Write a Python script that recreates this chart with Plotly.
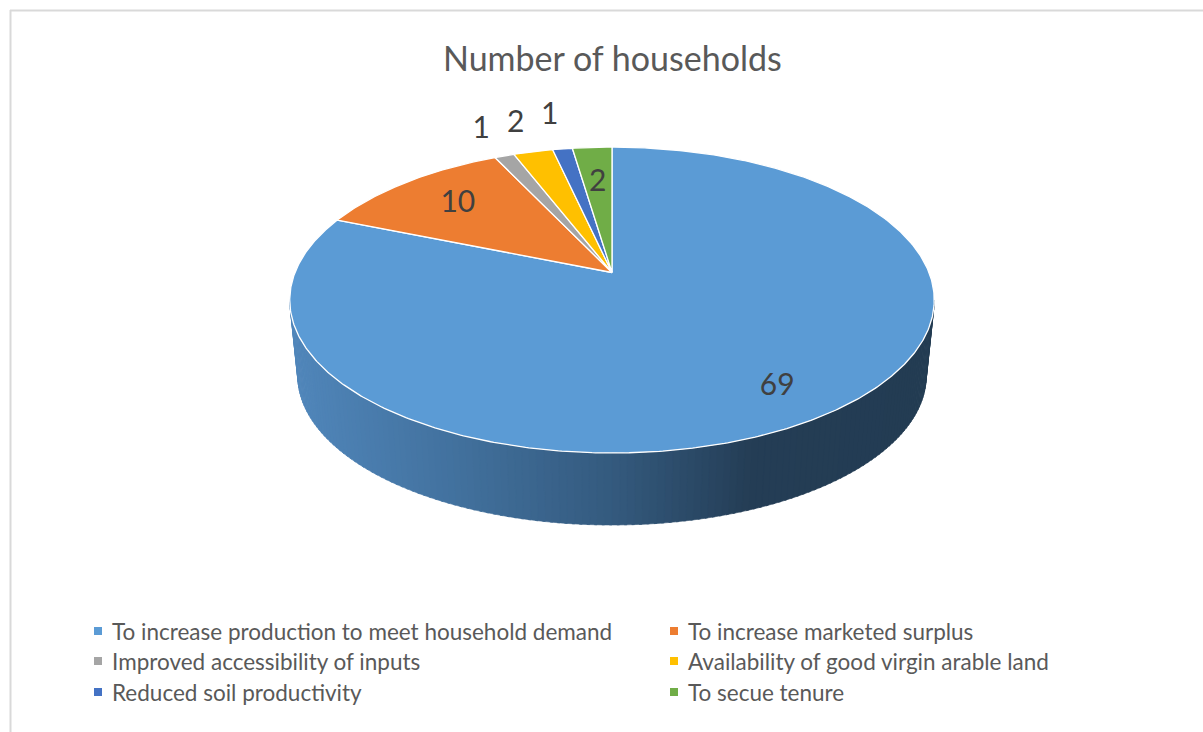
import numpy as np
import plotly.graph_objects as go

# ---------------- data ----------------
categories = [
    "To increase production to meet household demand",
    "To increase marketed surplus",
    "Improved accessibility of inputs",
    "Availability of good virgin arable land",
    "Reduced soil productivity",
    "To secue tenure",
]
values = [69, 10, 1, 2, 1, 2]
title_text = "Number of households"

# ---------------- styles / layout constants ----------------
colors = ["#5B9BD5", "#ED7D31", "#A5A5A5", "#FFC000", "#4472C4", "#70AD47"]
label_r = [0.82, 0.73, 1.26, 1.27, 1.32, 0.68]   # radial position of value labels
W, H = 1203, 732
CX, CY = 612.0, 272.5          # pie centre on screen
RX, RY = 317.0, 148.0          # pie radii
PERSP = 0.18                   # perspective strength
DEPTH = 76.5                   # thickness of the pie
BOTTOM_K = 0.975               # bottom rim is slightly smaller (perspective)
FONT = "Lato"
TXT = "#595959"
LBL = "#404040"

# side gradient stops (normalized screen x -> rgb)
grad_pos = [0.0, 0.25, 0.5, 0.72, 1.0]
grad_rgb = [(80, 134, 186), (66, 113, 158), (52, 90, 126), (36, 61, 85), (35, 60, 83)]


def proj(phi_deg, r=1.0, level=0):
    phi = np.radians(phi_deg)
    s = 1.0 / (1.0 + PERSP * r * np.cos(phi))
    k = 1.0 if level == 0 else BOTTOM_K
    x = CX + RX * r * np.sin(phi) * s * k
    y = CY + level * DEPTH - RY * r * np.cos(phi) * s * k
    return x, y


def grad_color(t):
    t = min(max(t, 0.0), 1.0)
    rgb = [int(round(np.interp(t, grad_pos, [c[i] for c in grad_rgb]))) for i in range(3)]
    return "rgb(%d,%d,%d)" % tuple(rgb)


fig = go.Figure()

total = float(sum(values))
bounds = np.concatenate([[0.0], np.cumsum(values) / total * 360.0])

# ---------------- side (front wall, drawn with a gradient) ----------------
phi_l = np.degrees(np.arccos(-PERSP))
phi_r = 360.0 - phi_l
n_strips = 140
edges = np.linspace(phi_l, phi_r, n_strips + 1)
for i in range(n_strips):
    a0, a1 = edges[i], edges[i + 1] + 0.4
    arc = np.linspace(a0, a1, 4)
    tx, ty = proj(arc)
    bx, by = proj(arc[::-1], level=1)
    xs = np.concatenate([tx, bx, [tx[0]]])
    ys = np.concatenate([ty, by, [ty[0]]])
    xm = np.mean(xs)
    t = (xm - (CX - RX)) / (2 * RX)
    col = grad_color(t)
    fig.add_trace(go.Scatter(x=xs, y=ys, mode="lines", fill="toself",
                             fillcolor=col, line=dict(width=0.6, color=col),
                             hoverinfo="skip", showlegend=False))

# ---------------- top face slices ----------------
for i, (cat, v) in enumerate(zip(categories, values)):
    a0, a1 = bounds[i], bounds[i + 1]
    n = max(3, int((a1 - a0) * 2))
    arc = np.linspace(a0, a1, n)
    ax, ay = proj(arc)
    xs = np.concatenate([[CX], ax, [CX]])
    ys = np.concatenate([[CY], ay, [CY]])
    fig.add_trace(go.Scatter(x=xs, y=ys, mode="lines", fill="toself",
                             fillcolor=colors[i], line=dict(color="white", width=1.3),
                             name=cat, hovertemplate=cat + ": %d<extra></extra>" % v,
                             showlegend=False))

# ---------------- value labels ----------------
lx, ly = [], []
for i, v in enumerate(values):
    mid = (bounds[i] + bounds[i + 1]) / 2.0
    x, y = proj(mid, r=label_r[i])
    lx.append(x)
    ly.append(y)
fig.add_trace(go.Scatter(x=lx, y=ly, mode="text", text=[str(v) for v in values],
                         textposition="middle center",
                         textfont=dict(family=FONT, size=30, color=LBL),
                         hoverinfo="skip", showlegend=False))

# ---------------- legend (two columns, three rows) ----------------
leg_cols = [98, 674]
leg_rows = [631, 661, 692]
for i, cat in enumerate(categories):
    r, c = divmod(i, 2)
    fig.add_trace(go.Scatter(x=[leg_cols[c]], y=[leg_rows[r]], mode="markers",
                             marker=dict(symbol="square", size=8, color=colors[i]),
                             hoverinfo="skip", showlegend=False))
    fig.add_annotation(x=leg_cols[c] + 12, y=leg_rows[r], text=cat, showarrow=False,
                       xanchor="left", yanchor="middle", xref="x", yref="y",
                       font=dict(family=FONT, size=22.5, color=TXT))

# title
fig.add_annotation(x=CX, y=57, text=title_text, showarrow=False, xref="x", yref="y",
                   xanchor="center", yanchor="middle",
                   font=dict(family=FONT, size=34, color=TXT))

# chart border (as in the reference screenshot)
fig.add_shape(type="line", xref="paper", yref="paper", x0=10 / W, x1=1.0,
              y0=1 - 10.5 / H, y1=1 - 10.5 / H, line=dict(color="#D9D9D9", width=2))
fig.add_shape(type="line", xref="paper", yref="paper", x0=10.5 / W, x1=10.5 / W,
              y0=0, y1=1 - 10 / H, line=dict(color="#D9D9D9", width=2))

fig.update_layout(
    width=W, height=H,
    margin=dict(l=0, r=0, t=0, b=0),
    paper_bgcolor="white", plot_bgcolor="white",
    xaxis=dict(range=[0, W], visible=False, fixedrange=True),
    yaxis=dict(range=[H, 0], visible=False, fixedrange=True),
    showlegend=False,
)

fig.write_html("out.html")
